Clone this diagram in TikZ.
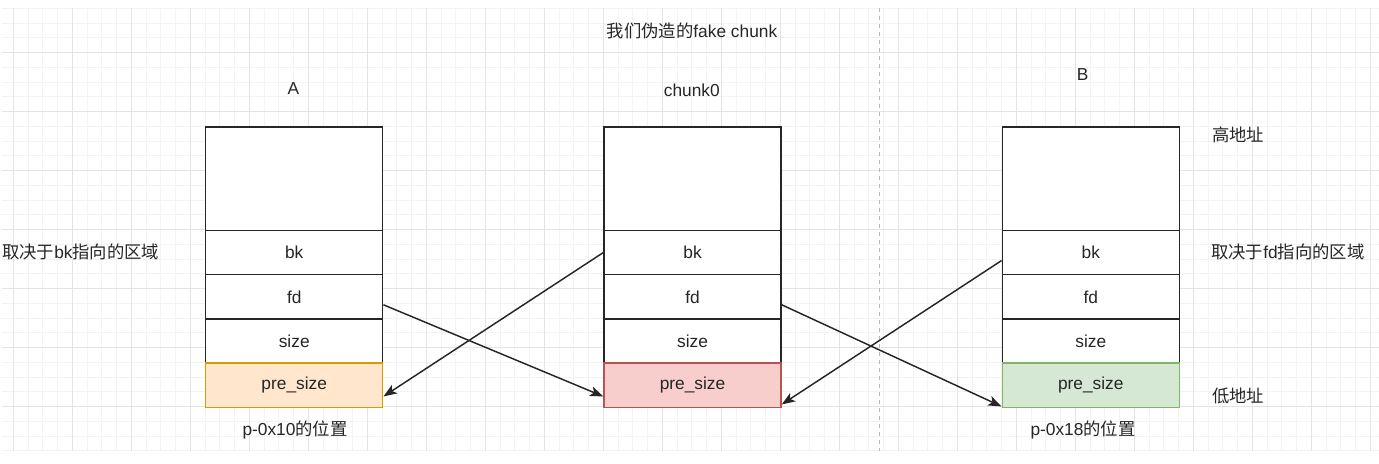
\documentclass[tikz,border=0pt]{standalone}
\usepackage{fontspec}
\setmainfont{Liberation Sans}
\newfontfamily\cjk{Noto Sans CJK SC}
\usetikzlibrary{arrows.meta}
\definecolor{linec}{HTML}{262626}
\definecolor{gridminor}{HTML}{F3F3F3}
\definecolor{gridmajor}{HTML}{E4E4E4}
\definecolor{orfill}{HTML}{FFE6CC}
\definecolor{orline}{HTML}{D79B00}
\definecolor{rdfill}{HTML}{F8CECC}
\definecolor{rdline}{HTML}{B85450}
\definecolor{grfill}{HTML}{D5E8D4}
\definecolor{grline}{HTML}{82B366}
\newcommand{\fs}{\fontsize{13}{15}\selectfont}
\tikzset{
  cell/.style={draw=linec, line width=1.1pt, fill=white, minimum width=132.75pt,
    minimum height=33.19pt, inner sep=0pt, anchor=north west, font=\fs, text=black!85},
  topcell/.style={cell, minimum height=77.44pt},
  lbl/.style={inner sep=0pt, font=\fs, text=black!85},
  ptr/.style={draw=linec, line width=1.1pt, -{Stealth[length=10pt,width=7.5pt,inset=2.5pt]}},
  minorline/.style={draw=gridminor, line width=0.7pt},
  majorline/.style={draw=gridmajor, line width=0.7pt}
}
\begin{document}
\begin{tikzpicture}[x=0.75pt,y=-0.75pt]
\useasboundingbox (0,0) rectangle (1379,464);
% grid
\foreach \i in {0,...,92} {\pgfmathsetmacro\xx{13.3+14.75*\i}\draw[minorline] (\xx,8.45) -- (\xx,450.95);}
\foreach \k in {0,...,30} {\pgfmathsetmacro\yy{8.45+14.75*\k}\draw[minorline] (2,\yy) -- (1379,\yy);}
\foreach \i in {0,4,...,92} {\pgfmathsetmacro\xx{13.3+14.75*\i}\draw[majorline] (\xx,8.45) -- (\xx,450.95);}
\foreach \k in {3,7,...,27} {\pgfmathsetmacro\yy{8.45+14.75*\k}\draw[majorline] (2,\yy) -- (1379,\yy);}
% dashed separator
\coordinate (sepT) at (879.3,8.45);
\coordinate (sepB) at (879.3,450.95);
\draw[draw=gray!55, line width=0.6pt, dash pattern=on 3pt off 3pt] (sepT) -- (sepB);
% chunk A
\node[topcell] (Atop) at (205,126.45) {};
\node[cell] (Abk) at (205,229.7) {bk};
\node[cell] (Afd) at (205,273.95) {fd};
\node[cell] (Asz) at (205,318.2) {size};
\node[cell, fill=orfill, draw=orline] (Apre) at (205,362.45) {pre\_size};
% chunk0
\node[topcell] (Ctop) at (603.3,126.45) {};
\node[cell] (Cbk) at (603.3,229.7) {bk};
\node[cell] (Cfd) at (603.3,273.95) {fd};
\node[cell] (Csz) at (603.3,318.2) {size};
\node[cell, fill=rdfill, draw=rdline] (Cpre) at (603.3,362.45) {pre\_size};
% chunk B
\node[topcell] (Btop) at (1001.55,126.45) {};
\node[cell] (Bbk) at (1001.55,229.7) {bk};
\node[cell] (Bfd) at (1001.55,273.95) {fd};
\node[cell] (Bsz) at (1001.55,318.2) {size};
\node[cell, fill=grfill, draw=grline] (Bpre) at (1001.55,362.45) {pre\_size};
% labels
\node[lbl] (title) at (692,31) {{\cjk 我们伪造的}fake chunk};
\node[lbl] (labA) at (293.5,89) {A};
\node[lbl] (labC) at (691.8,90) {chunk0};
\node[lbl] (labB) at (1082.7,75) {B};
\node[lbl, anchor=west] (high) at (1212,135) {\cjk 高地址};
\node[lbl, anchor=west] (fdreg) at (1211,252) {{\cjk 取决于}fd{\cjk 指向的区域}};
\node[lbl, anchor=west] (low) at (1212,396) {\cjk 低地址};
\node[lbl, anchor=west] (bkreg) at (2,252) {{\cjk 取决于}bk{\cjk 指向的区域}};
\node[lbl] (posA) at (295,430) {p-0x10{\cjk 的位置}};
\node[lbl] (posB) at (1083,430) {p-0x18{\cjk 的位置}};
% pointers
\draw[ptr] (Cbk.west) -- ([yshift=8.8pt]Apre.south east);
\draw[ptr] ([yshift=-6pt]Afd.east) -- ([yshift=8.8pt]Cpre.south west);
\draw[ptr] ([yshift=-6pt]Cfd.east) -- ([yshift=1.3pt]Bpre.south west);
\draw[ptr] ([yshift=-6pt]Bbk.west) -- ([yshift=2.8pt]Cpre.south east);
\end{tikzpicture}
\end{document}
